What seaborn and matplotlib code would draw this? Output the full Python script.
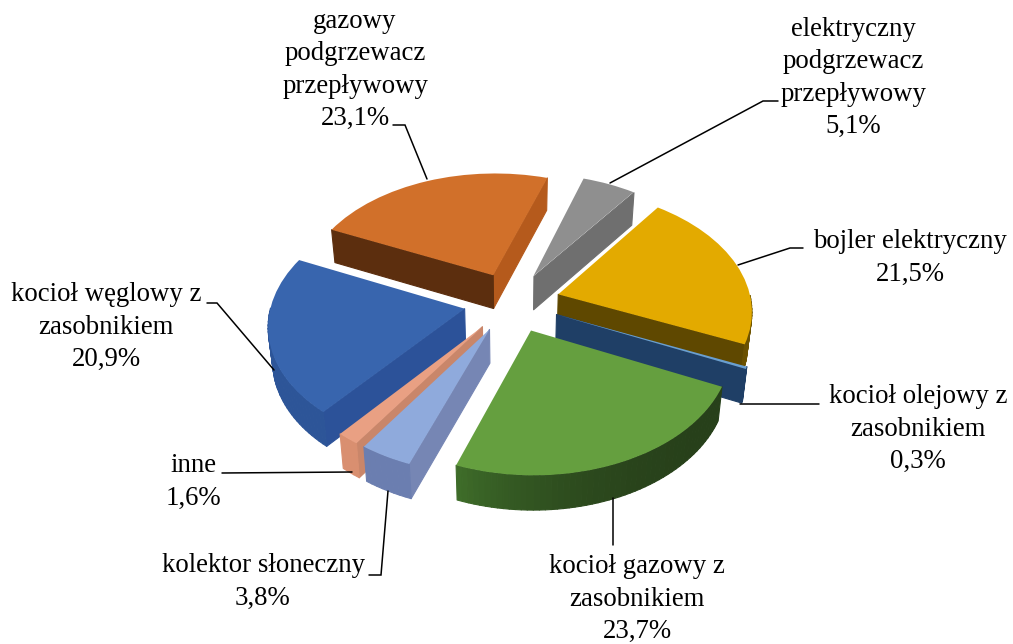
import numpy as np
import matplotlib
matplotlib.use("Agg")
import matplotlib.pyplot as plt
from matplotlib.collections import PolyCollection
from matplotlib.colors import to_rgb
from matplotlib.transforms import Transform
import seaborn as sns

categories = ["elektryczny\npodgrzewacz\nprzepływowy", "bojler elektryczny", "kocioł olejowy z\nzasobnikiem",
              "kocioł gazowy z\nzasobnikiem", "kolektor słoneczny", "inne",
              "kocioł węglowy z\nzasobnikiem", "gazowy\npodgrzewacz\nprzepływowy"]
values = [5.1, 21.5, 0.3, 23.7, 3.8, 1.6, 20.9, 23.1]
explode = [0.25] * 8

top_colors = ["#8f8f8f", "#e3aa00", "#6a9fd0", "#659f3f", "#8faadc", "#e9a083", "#3865ae", "#d1702a"]
first_wall = ["#6f6f6f", "#5f4800", "#1f3f66", "#27401a", "#7686b4", "#c9866a", "#2c5299", "#5c2e0e"]
last_wall = ["#6f6f6f", "#5f4800", "#1f3f66", "#3e6c29", "#6b7eb0", "#c9866a", "#2c5299", "#b55a1c"]
arc_start = ["#6f6f6f", "#7a5e00", "#1f3f66", "#27401a", "#6b7eb0", "#d98f70", "#2d5598", "#5c2e0e"]
arc_end = ["#6f6f6f", "#6a5000", "#1f3f66", "#3e6c29", "#6b7eb0", "#d98f70", "#2d5598", "#5c2e0e"]

label_pos = [(853, 78), (910, 258), (918, 429), (637, 599), (263, 582), (193, 482), (106, 327), (355, 70)]
leaders = [
    [(778, 101), (763, 101), (610, 183)],
    [(803, 248), (790, 248), (738, 265)],
    [(819, 404), (740, 404)],
    [(613, 498), (613, 545)],
    [(369, 575), (381, 575), (388, 491)],
    [(222, 473), (352, 472)],
    [(207, 303), (217, 303), (274, 370)],
    [(393, 125), (405, 125), (427, 179)],
]

CX, CY, A, B, K, DEPTH = 512.0, 302.0, 193.0, 120.0, 0.12, 33.5


def project(xy, z=0.0):
    xy = np.asarray(xy, dtype=float)
    w = 1 + K * xy[..., 1]
    taper = 1 - 0.00055 * z
    drop = z / (1 + 0.03 * xy[..., 1])
    return np.stack([CX + taper * A * xy[..., 0] / w, CY - B * xy[..., 1] / w + drop], axis=-1)


class Perspective(Transform):
    input_dims = output_dims = 2
    is_affine = False
    has_inverse = False

    def transform_non_affine(self, values):
        return project(values)


sns.set_theme(style="white")
plt.rcParams["font.family"] = ["Liberation Serif", "DejaVu Serif"]

fig = plt.figure(figsize=(10.13, 6.44), dpi=100)
ax = fig.add_axes([0, 0, 1, 1])
wedges, _ = ax.pie(values, explode=explode, startangle=72, counterclock=False,
                   colors=top_colors, radius=1.0, wedgeprops={"linewidth": 0})
ax.set_aspect("auto")
ax.set_xlim(0, 1013)
ax.set_ylim(644, 0)
ax.axis("off")

persp = Perspective()
order = np.argsort([-(w.center[1]) for w in wedges])


def quad(p, q):
    return np.array([project(p), project(q), project(q, DEPTH), project(p, DEPTH)])


for rank, i in enumerate(order):
    w = wedges[i]
    c = np.array(w.center)
    angs = np.radians(np.linspace(w.theta2, w.theta1, max(4, int((w.theta2 - w.theta1) / 1.5))))
    pts = c + w.r * np.column_stack([np.cos(angs), np.sin(angs)])
    faces = []
    if np.sin(np.radians(w.theta2 + 90)) < 0:
        faces.append((quad(c, pts[0]), to_rgb(first_wall[i]), 0.5 * (c + pts[0])[1]))
    if np.sin(np.radians(w.theta1 - 90)) < 0:
        faces.append((quad(c, pts[-1]), to_rgb(last_wall[i]), 0.5 * (c + pts[-1])[1]))
    s, e = np.array(to_rgb(arc_start[i])), np.array(to_rgb(arc_end[i]))
    for j in range(len(pts) - 1):
        mid = 0.5 * (angs[j] + angs[j + 1])
        if np.sin(mid) >= 0:
            continue
        t = (j / max(1, len(pts) - 2)) ** 3
        faces.append((quad(pts[j], pts[j + 1]), tuple(s + (e - s) * t), 0.5 * (pts[j] + pts[j + 1])[1]))
    faces.sort(key=lambda f: -f[2])
    pc = PolyCollection([f[0] for f in faces], facecolors=[f[1] for f in faces],
                        edgecolors=[f[1] for f in faces], linewidths=0.8, zorder=2 + 2 * rank)
    ax.add_collection(pc)
    w.set_transform(persp + ax.transData)
    w.set_clip_on(False)
    w.set_zorder(3 + 2 * rank)

for line in leaders:
    xs, ys = zip(*line)
    ax.plot(xs, ys, color="black", lw=1.1, zorder=40, solid_joinstyle="miter")

for name, val, (x, y) in zip(categories, values, label_pos):
    ax.text(x, y, f"{name}\n{val:.1f}%".replace(".", ","), ha="center", va="center", ma="center",
            fontsize=19.3, linespacing=1.39, color="black", zorder=41)

fig.savefig("out.png", dpi=100, facecolor="white")
